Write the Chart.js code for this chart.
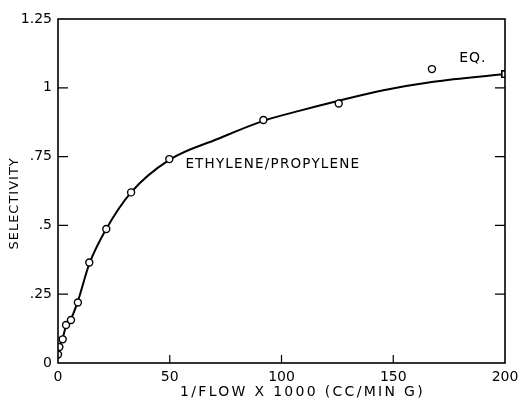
<!DOCTYPE html>
<html>
<head>
<meta charset="utf-8">
<script src="https://cdn.jsdelivr.net/npm/chart.js@4/dist/chart.umd.min.js"></script>
<style>
  html, body { margin: 0; padding: 0; background: #fff; }
  #wrap { width: 522px; height: 404px; }
</style>
</head>
<body>
<div id="wrap"><canvas id="myChart" width="522" height="404"></canvas></div>
<script>
// measured points (1/flow x 1000, selectivity)
var flowX = [0, 0.6, 2.1, 3.6, 5.8, 8.9, 14, 21.6, 32.7, 49.8, 91.9, 125.6, 167.3];
var selY = [0.031, 0.058, 0.086, 0.138, 0.156, 0.22, 0.365, 0.487, 0.62, 0.741, 0.883, 0.943, 1.068];

// fitted curve as drawn
var curveX = [0, 0.6, 2.1, 3.6, 5.8, 8.9, 14, 21.6, 32.7, 49.8, 71.4, 91.9, 108.3, 125.6, 145.6, 168, 200];
var curveY = [0.03, 0.058, 0.09, 0.135, 0.16, 0.225, 0.36, 0.487, 0.62, 0.738, 0.814, 0.88, 0.917, 0.953, 0.991, 1.022, 1.05];

// equilibrium value
var eqX = [200];
var eqY = [1.05];

var xTicks = [0, 50, 100, 150, 200];
var yTicks = [0, 0.25, 0.5, 0.75, 1, 1.25];
var yTickText = ['0', '.25', '.5', '.75', '1', '1.25'];

var FONT = 'DejaVu Sans';

function pts(xs, ys) {
    var out = [];
    for (var i = 0; i < xs.length; i++) out.push({x: xs[i], y: ys[i]});
    return out;
}

function spacedText(ctx, txt, x, y, size, spacing) {
    ctx.font = size + 'px "' + FONT + '"';
    ctx.letterSpacing = spacing + 'px';
    ctx.fillText(txt, x, y);
}

// inward tick marks, frame, axis titles and the two text notes
var decorations = {
    id: 'decorations',
    afterDraw: function(chart) {
        var ctx = chart.ctx;
        var a = chart.chartArea;
        var xs = chart.scales.x, ys = chart.scales.y;
        ctx.save();
        ctx.strokeStyle = '#000';
        ctx.lineWidth = 1.6;
        ctx.strokeRect(a.left, a.top, a.right - a.left, a.bottom - a.top);
        ctx.lineWidth = 1.2;
        ctx.beginPath();
        for (var i = 1; i < xTicks.length - 1; i++) {
            var px = xs.getPixelForValue(xTicks[i]);
            ctx.moveTo(px, a.bottom);
            ctx.lineTo(px, a.bottom - 8);
        }
        for (var j = 1; j < yTicks.length - 1; j++) {
            var py = ys.getPixelForValue(yTicks[j]);
            ctx.moveTo(a.left, py);
            ctx.lineTo(a.left + 10, py);
            ctx.moveTo(a.right, py);
            ctx.lineTo(a.right - 10, py);
        }
        ctx.stroke();

        ctx.fillStyle = '#000';
        ctx.textBaseline = 'middle';
        ctx.textAlign = 'left';
        spacedText(ctx, 'ETHYLENE/PROPYLENE', xs.getPixelForValue(57), ys.getPixelForValue(0.72), 13.5, 1.2);
        spacedText(ctx, 'EQ.', xs.getPixelForValue(179.5), ys.getPixelForValue(1.108), 14, 1);

        ctx.textAlign = 'center';
        spacedText(ctx, '1/FLOW X 1000 (CC/MIN G)', xs.getPixelForValue(109.4), 392, 14, 2.3);
        ctx.translate(15, ys.getPixelForValue(0.58));
        ctx.rotate(-Math.PI / 2);
        spacedText(ctx, 'SELECTIVITY', 0, 0, 13, 1);
        ctx.restore();
    }
};

var ctx = document.getElementById('myChart').getContext('2d');
var chart = new Chart(ctx, {
    type: 'scatter',
    data: {
        datasets: [{
                data: pts(curveX, curveY),
                showLine: true,
                borderColor: '#000',
                borderWidth: 2,
                pointRadius: 0,
                cubicInterpolationMode: 'monotone',
                order: 2
            },
            {
                data: pts(flowX, selY),
                showLine: false,
                pointStyle: 'circle',
                pointRadius: 3.5,
                pointBorderWidth: 1.4,
                pointBorderColor: '#000',
                pointBackgroundColor: '#fff',
                order: 1
            },
            {
                data: pts(eqX, eqY),
                showLine: false,
                pointStyle: 'rect',
                pointRadius: 4.5,
                pointBorderWidth: 1.6,
                pointBorderColor: '#000',
                pointBackgroundColor: '#fff',
                order: 0
            }]
    },
    options: {
        responsive: false,
        animation: false,
        layout: { padding: { left: 0, right: 17, top: 19, bottom: 0 } },
        plugins: { legend: { display: false }, tooltip: { enabled: false } },
        scales: {
            x: {
                type: 'linear',
                min: 0, max: 200,
                afterBuildTicks: function(s) { s.ticks = xTicks.map(function(v) { return {value: v}; }); },
                afterFit: function(s) { s.height = 41; s.paddingLeft = 0; s.paddingRight = 0; },
                grid: { display: false, drawTicks: false },
                border: { display: false },
                ticks: { color: '#000', padding: 6, maxRotation: 0, font: { family: FONT, size: 14 } },
                title: { display: false }
            },
            y: {
                type: 'linear',
                min: 0, max: 1.25,
                afterBuildTicks: function(s) { s.ticks = yTicks.map(function(v) { return {value: v}; }); },
                afterFit: function(s) { s.width = 58; s.paddingTop = 0; s.paddingBottom = 0; },
                grid: { display: false, drawTicks: false },
                border: { display: false },
                ticks: {
                    color: '#000', padding: 6, font: { family: FONT, size: 14 },
                    callback: function(v) { var k = yTicks.indexOf(v); return k < 0 ? '' : yTickText[k]; }
                },
                title: { display: false }
            }
        }
    },
    plugins: [decorations]
});
</script>
</body>
</html>
